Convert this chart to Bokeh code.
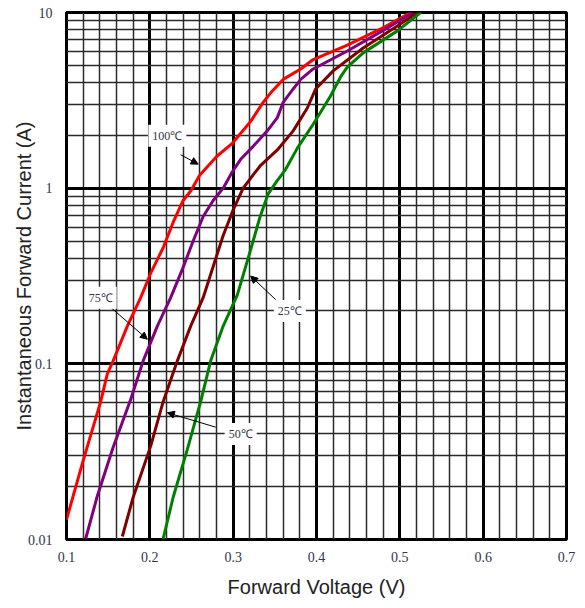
from bokeh.plotting import figure
from bokeh.models import FixedTicker, Label, Arrow, NormalHead
from bokeh.embed import file_html
from bokeh.resources import INLINE

# ---- data ----
x_ticks = [0.1, 0.2, 0.3, 0.4, 0.5, 0.6, 0.7]
x_minor = [0.12, 0.14, 0.16, 0.18, 0.22, 0.24, 0.26, 0.28, 0.32, 0.34, 0.36, 0.38,
           0.42, 0.44, 0.46, 0.48, 0.52, 0.54, 0.56, 0.58, 0.62, 0.64, 0.66, 0.68]
y_ticks = [0.01, 0.1, 1, 10]
y_minor = [0.02, 0.03, 0.04, 0.05, 0.06, 0.07, 0.08, 0.09,
           0.2, 0.3, 0.4, 0.5, 0.6, 0.7, 0.8, 0.9,
           2, 3, 4, 5, 6, 7, 8, 9]
y_labels = {0.01: "0.01", 0.1: "0.1", 1: "1", 10: "10"}

v_100 = [0.100, 0.120, 0.141, 0.149, 0.156, 0.173, 0.189, 0.201, 0.216, 0.228, 0.240, 0.249,
         0.260, 0.281, 0.299, 0.321, 0.336, 0.345, 0.360, 0.381, 0.396, 0.437, 0.477, 0.513]
i_100 = [0.013, 0.0281, 0.0609, 0.0877, 0.104, 0.164, 0.238, 0.328, 0.458, 0.64, 0.851, 0.964,
         1.19, 1.53, 1.80, 2.40, 3.08, 3.49, 4.16, 4.77, 5.40, 6.52, 8.06, 10.0]

v_75 = [0.123, 0.137, 0.156, 0.177, 0.192, 0.209, 0.225, 0.239, 0.252, 0.264, 0.276, 0.288,
        0.299, 0.309, 0.324, 0.341, 0.353, 0.360, 0.372, 0.381, 0.396, 0.437, 0.477, 0.516]
i_75 = [0.0101, 0.0177, 0.0335, 0.0626, 0.104, 0.164, 0.238, 0.345, 0.50, 0.69, 0.851, 1.0,
        1.24, 1.46, 1.73, 2.12, 2.52, 3.08, 3.67, 4.16, 4.77, 6.04, 7.76, 10.0]

v_50 = [0.167, 0.180, 0.201, 0.216, 0.233, 0.249, 0.264, 0.276, 0.288, 0.300, 0.312, 0.324,
        0.333, 0.353, 0.372, 0.389, 0.399, 0.420, 0.456, 0.497, 0.521]
i_50 = [0.0104, 0.0174, 0.034, 0.0609, 0.104, 0.164, 0.238, 0.358, 0.538, 0.752, 1.0, 1.19,
        1.35, 1.65, 2.12, 2.86, 3.67, 4.65, 6.28, 8.37, 10.0]

v_25 = [0.216, 0.228, 0.245, 0.261, 0.273, 0.288, 0.305, 0.321, 0.332, 0.342, 0.352, 0.363,
        0.377, 0.396, 0.417, 0.429, 0.437, 0.456, 0.497, 0.525]
i_25 = [0.0101, 0.0174, 0.0326, 0.0609, 0.104, 0.164, 0.247, 0.447, 0.681, 0.929, 1.09, 1.28,
        1.69, 2.31, 3.36, 4.31, 4.89, 5.89, 7.86, 10.0]

series = [
    ("100℃", v_100, i_100, "#ff0000"),
    ("75℃", v_75, i_75, "#800080"),
    ("50℃", v_50, i_50, "#800000"),
    ("25℃", v_25, i_25, "#008000"),
]

# annotation positions: (text, text_x, text_y, arrow_x0, arrow_y0, arrow_x1, arrow_y1)
notes = [
    ("100℃", 0.221, 1.99, 0.237, 1.55, 0.258, 1.37),
    ("75℃", 0.141, 0.238, 0.149, 0.218, 0.197, 0.138),
    ("50℃", 0.309, 0.0399, 0.279, 0.0436, 0.221, 0.0527),
    ("25℃", 0.368, 0.200, 0.351, 0.232, 0.321, 0.316),
]

p = figure(width=568, height=600, x_range=(0.1, 0.7), y_range=(0.01, 10),
           y_axis_type="log", output_backend="svg", toolbar_location=None,
           min_border_left=40, min_border_right=11, min_border_top=12, min_border_bottom=60)
p.margin = (0, 0, 0, 9)

p.background_fill_color = "white"
p.border_fill_color = "white"
p.outline_line_color = "black"
p.outline_line_width = 3

p.xaxis.ticker = FixedTicker(ticks=x_ticks, minor_ticks=x_minor)
p.yaxis.ticker = FixedTicker(ticks=y_ticks, minor_ticks=y_minor)
p.yaxis.major_label_overrides = y_labels

for ax in (p.xaxis[0], p.yaxis[0]):
    ax.axis_line_color = None
    ax.major_tick_line_color = None
    ax.minor_tick_line_color = None
    ax.major_label_text_font = "Liberation Serif"
    ax.major_label_text_font_size = "14px"
    ax.major_label_text_color = "#33334d"
    ax.axis_label_text_font = "Liberation Sans"
    ax.axis_label_text_font_size = "20px"
    ax.axis_label_text_font_style = "normal"
    ax.axis_label_text_color = "#222222"

p.xaxis.axis_label = "Forward Voltage (V)"
p.yaxis.axis_label = "Instantaneous Forward Current (A)"
p.xaxis.major_label_standoff = 6
p.xaxis.axis_label_standoff = 11
p.yaxis.major_label_standoff = 8
p.yaxis.axis_label_standoff = -10

for g in (p.xgrid[0], p.ygrid[0]):
    g.grid_line_color = "black"
    g.grid_line_width = 3
    g.minor_grid_line_color = "#2a2a2a"
    g.minor_grid_line_width = 1.5

for name, v, i, c in series:
    p.line(v, i, line_color=c, line_width=3)

for text, tx, ty, x0, y0, x1, y1 in notes:
    p.add_layout(Arrow(end=NormalHead(size=7, fill_color="black", line_color="black"),
                       x_start=x0, y_start=y0, x_end=x1, y_end=y1,
                       line_color="black", line_width=1))
    p.add_layout(Label(x=tx, y=ty, text=text, text_align="center", text_baseline="middle",
                       text_font="Liberation Serif", text_font_size="12px",
                       text_color="#333344", background_fill_color="white",
                       padding=4))

open("out.html", "w").write(file_html(p, INLINE))
